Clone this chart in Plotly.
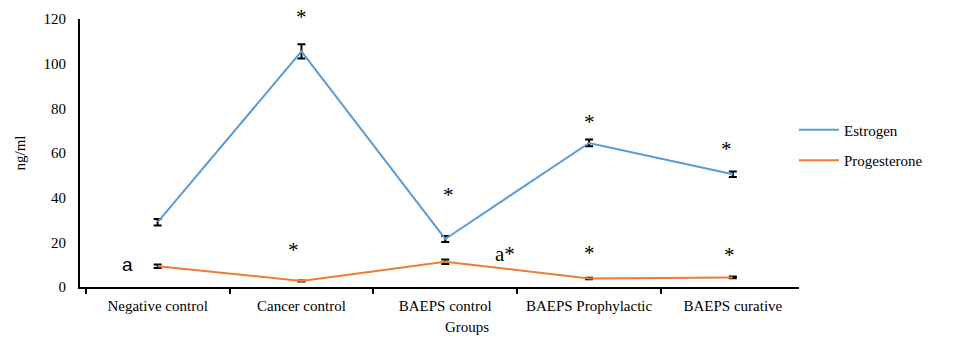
import plotly.graph_objects as go

groups = ["Negative control", "Cancer control", "BAEPS control", "BAEPS Prophylactic", "BAEPS curative"]
estrogen = [29, 105.5, 21.5, 64.5, 50.5]
estrogen_err = [1.5, 3.2, 1.3, 1.5, 1.2]
progesterone = [9.3, 2.7, 11.3, 3.8, 4.3]
progesterone_err = [0.8, 0.2, 1.0, 0.3, 0.4]

# significance markers: (group, y value, text, x shift)
est_marks = [("Cancer control", 119, "*", 0), ("BAEPS control", 41, "*", 3),
             ("BAEPS Prophylactic", 74, "*", 0), ("BAEPS curative", 62, "*", -6)]
prog_marks = [("Cancer control", 16.5, "*", -8), ("BAEPS Prophylactic", 15.4, "*", 0),
              ("BAEPS curative", 14.5, "*", -3)]

serif = "Liberation Serif, Times New Roman, serif"

fig = go.Figure()
fig.add_trace(go.Scatter(
    x=groups, y=estrogen, mode="lines", name="Estrogen", legendgroup="e",
    line=dict(color="#5b9bd5", width=2),
    error_y=dict(type="data", array=estrogen_err, color="black", thickness=2, width=4),
))
fig.add_trace(go.Scatter(
    x=groups, y=progesterone, mode="lines", name="Progesterone", legendgroup="p",
    line=dict(color="#ed7d31", width=2),
    error_y=dict(type="data", array=progesterone_err, color="black", thickness=2, width=4),
))

for g, yv, t, dx in est_marks + prog_marks:
    fig.add_annotation(x=g, y=yv, text=t, showarrow=False, xshift=dx,
                       yshift=(4 if yv > 100 else 0),
                       font=dict(family=serif, size=21, color="black"))

fig.add_annotation(x="Negative control", y=10, text="a", showarrow=False, xshift=-30,
                   font=dict(family="Liberation Sans, Arial, sans-serif", size=19, color="black"))
fig.add_annotation(x="BAEPS control", y=14.8, text="a*", showarrow=False, xshift=60,
                   font=dict(family=serif, size=21, color="black"))

# x-axis title (placed slightly right of centre as in the reference)
fig.add_annotation(xref="paper", yref="paper", x=0.538, y=-0.149, text="Groups",
                   showarrow=False, xanchor="center", yanchor="middle",
                   font=dict(family=serif, size=15, color="black"))

fig.update_layout(
    width=966, height=340,
    margin=dict(l=80, r=167, t=19, b=53),
    plot_bgcolor="white", paper_bgcolor="white",
    font=dict(family=serif, size=15, color="black"),
    legend=dict(x=0.993, y=0.53, xanchor="left", yanchor="middle",
                font=dict(family=serif, size=15, color="black"),
                itemwidth=40, tracegroupgap=8),
    showlegend=True,
)
fig.update_xaxes(
    type="category", range=[-0.54, 4.46], automargin=False,
    showline=True, linecolor="black", linewidth=2,
    ticks="outside", tickson="boundaries", ticklen=5, tickcolor="black", tickwidth=2,
    showgrid=False, zeroline=False, ticklabelstandoff=4,
    tickfont=dict(family=serif, size=15),
)
fig.update_yaxes(
    range=[0, 120], dtick=20, automargin=False,
    showline=True, linecolor="black", linewidth=2,
    ticks="", showgrid=False, zeroline=False, ticklabelstandoff=9,
    title=dict(text="ng/ml", font=dict(family=serif, size=15), standoff=14),
    tickfont=dict(family=serif, size=15),
)

fig.write_html("out.html")
